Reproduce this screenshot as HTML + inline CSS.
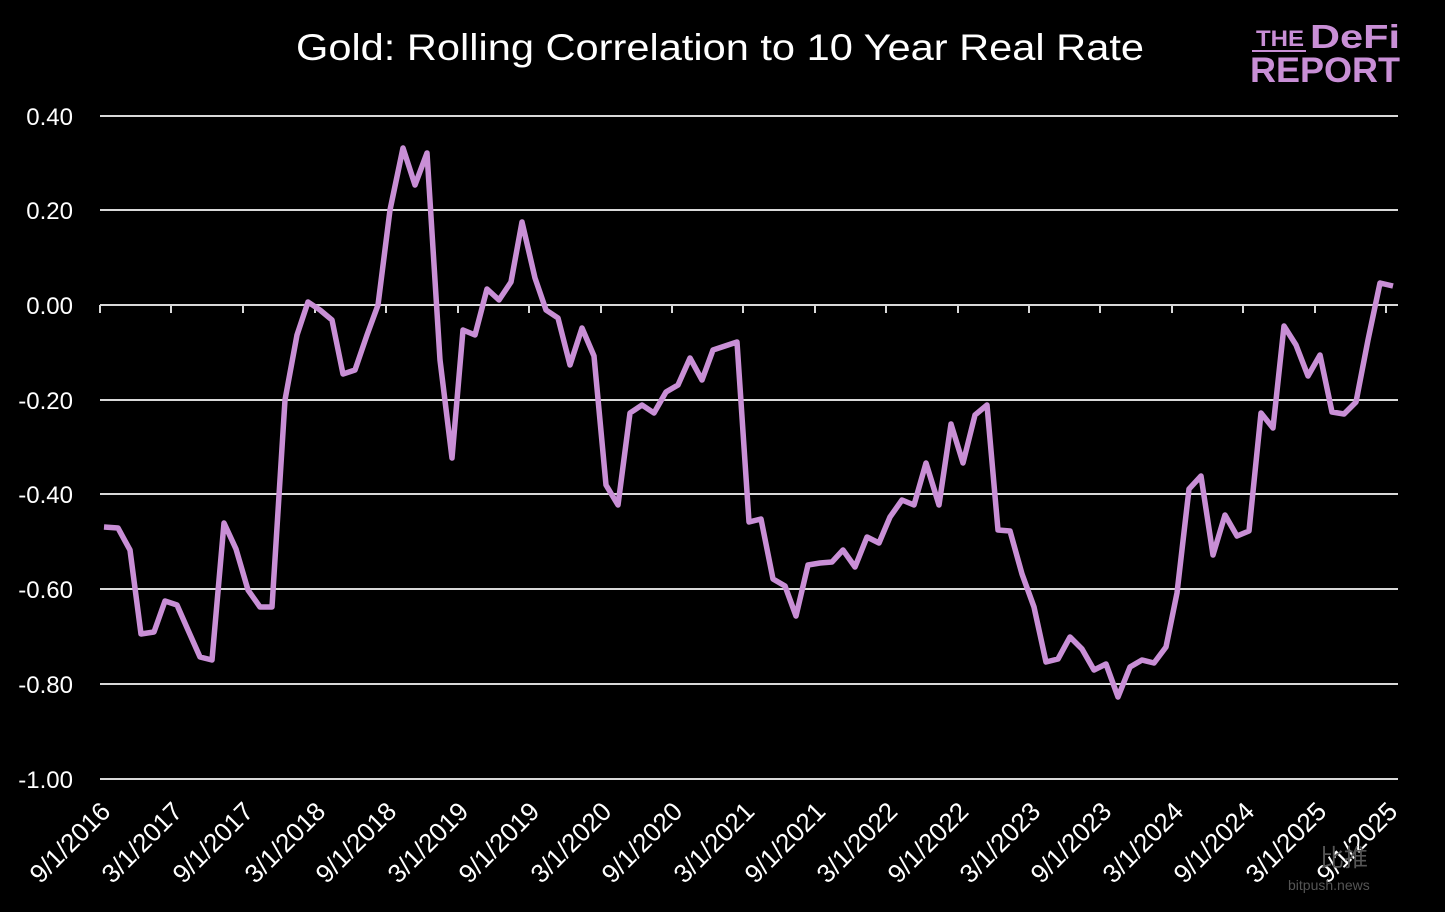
<!DOCTYPE html>
<html><head><meta charset="utf-8"><style>
html,body{margin:0;padding:0;background:#000;}
svg{display:block;font-family:"Liberation Sans",sans-serif;}
</style></head><body>
<svg width="1445" height="912" viewBox="0 0 1445 912" xmlns="http://www.w3.org/2000/svg">
<rect width="1445" height="912" fill="#000"/>
<text x="720" y="60" fill="#fff" font-size="37" text-anchor="middle" textLength="848" lengthAdjust="spacingAndGlyphs">Gold: Rolling Correlation to 10 Year Real Rate</text>
<g fill="#c98fd6" font-weight="bold">
<text x="1256" y="46" font-size="22" textLength="48" lengthAdjust="spacingAndGlyphs">THE</text>
<line x1="1252" y1="51" x2="1306" y2="51" stroke="#c98fd6" stroke-width="2"/>
<text x="1310" y="48" font-size="33" textLength="90" lengthAdjust="spacingAndGlyphs">DeFi</text>
<text x="1250" y="82" font-size="35" textLength="150" lengthAdjust="spacingAndGlyphs">REPORT</text>
</g>
<g stroke="#d9d9d9" stroke-width="2">
<line x1="100" y1="116" x2="1398" y2="116"/>
<line x1="100" y1="210" x2="1398" y2="210"/>
<line x1="100" y1="305" x2="1398" y2="305"/>
<line x1="100" y1="400" x2="1398" y2="400"/>
<line x1="100" y1="494" x2="1398" y2="494"/>
<line x1="100" y1="589" x2="1398" y2="589"/>
<line x1="100" y1="684" x2="1398" y2="684"/>
<line x1="100" y1="779" x2="1398" y2="779"/>
</g>
<g fill="#fff" font-size="24" text-anchor="end">
<text x="73" y="125">0.40</text>
<text x="73" y="219">0.20</text>
<text x="73" y="314">0.00</text>
<text x="73" y="409">-0.20</text>
<text x="73" y="503">-0.40</text>
<text x="73" y="598">-0.60</text>
<text x="73" y="693">-0.80</text>
<text x="73" y="788">-1.00</text>
</g>
<g fill="#fff" font-size="26" text-anchor="end">
<text transform="translate(112,813) rotate(-45)">9/1/2016</text>
<text transform="translate(184,813) rotate(-45)">3/1/2017</text>
<text transform="translate(255,813) rotate(-45)">9/1/2017</text>
<text transform="translate(327,813) rotate(-45)">3/1/2018</text>
<text transform="translate(398,813) rotate(-45)">9/1/2018</text>
<text transform="translate(470,813) rotate(-45)">3/1/2019</text>
<text transform="translate(541,813) rotate(-45)">9/1/2019</text>
<text transform="translate(613,813) rotate(-45)">3/1/2020</text>
<text transform="translate(684,813) rotate(-45)">9/1/2020</text>
<text transform="translate(756,813) rotate(-45)">3/1/2021</text>
<text transform="translate(827,813) rotate(-45)">9/1/2021</text>
<text transform="translate(899,813) rotate(-45)">3/1/2022</text>
<text transform="translate(970,813) rotate(-45)">9/1/2022</text>
<text transform="translate(1042,813) rotate(-45)">3/1/2023</text>
<text transform="translate(1113,813) rotate(-45)">9/1/2023</text>
<text transform="translate(1185,813) rotate(-45)">3/1/2024</text>
<text transform="translate(1256,813) rotate(-45)">9/1/2024</text>
<text transform="translate(1328,813) rotate(-45)">3/1/2025</text>
<text transform="translate(1399,813) rotate(-45)">9/1/2025</text>
</g>
<g stroke="#d9d9d9" stroke-width="2">
<line x1="100" y1="305" x2="100" y2="313"/><line x1="171" y1="305" x2="171" y2="313"/><line x1="243" y1="305" x2="243" y2="313"/><line x1="315" y1="305" x2="315" y2="313"/><line x1="386" y1="305" x2="386" y2="313"/><line x1="458" y1="305" x2="458" y2="313"/><line x1="529" y1="305" x2="529" y2="313"/><line x1="601" y1="305" x2="601" y2="313"/><line x1="672" y1="305" x2="672" y2="313"/><line x1="743" y1="305" x2="743" y2="313"/><line x1="815" y1="305" x2="815" y2="313"/><line x1="886" y1="305" x2="886" y2="313"/><line x1="958" y1="305" x2="958" y2="313"/><line x1="1029" y1="305" x2="1029" y2="313"/><line x1="1100" y1="305" x2="1100" y2="313"/><line x1="1172" y1="305" x2="1172" y2="313"/><line x1="1243" y1="305" x2="1243" y2="313"/><line x1="1315" y1="305" x2="1315" y2="313"/><line x1="1386" y1="305" x2="1386" y2="313"/>
</g>
<polyline fill="none" stroke="#c98fd6" stroke-width="5.5" stroke-linejoin="round" points="104,527 118,528 130,550 141,634 154,632 165,601 177,605 188,630 200,657 212,660 224,523 236,549 248,590 260,607 272,607 285,400 297,335 308,302 320,310 332,320 343,374 355,370 367,335 378,305 390,210 403,148 415,185 427,153 440,360 452,458 463,330 475,335 487,289 499,300 511,282 522,222 535,278 546,310 558,318 570,365 582,328 594,356 606,485 618,505 630,413 642,405 654,413 666,392 678,385 690,358 702,380 713,350 725,346 737,342 749,522 761,519 773,579 785,586 796,616 808,565 820,563 832,562 843,550 855,567 867,537 879,543 890,517 902,500 914,505 926,463 939,505 951,424 963,463 975,415 987,405 998,530 1010,531 1022,574 1034,607 1046,662 1058,659 1070,637 1082,649 1094,670 1106,664 1118,697 1130,667 1142,660 1154,663 1166,647 1177,593 1189,489 1201,476 1213,555 1225,515 1237,536 1249,531 1261,413 1273,428 1284,326 1296,345 1308,376 1320,355 1332,412 1344,414 1356,402 1368,340 1380,283 1393,286"/>
<text x="1320" y="866" fill="#555" font-size="24" font-family="'Noto Sans CJK SC',sans-serif">比推</text>
<text x="1288" y="890" fill="#555" font-size="14">bitpush.news</text>
</svg>
</body></html>
